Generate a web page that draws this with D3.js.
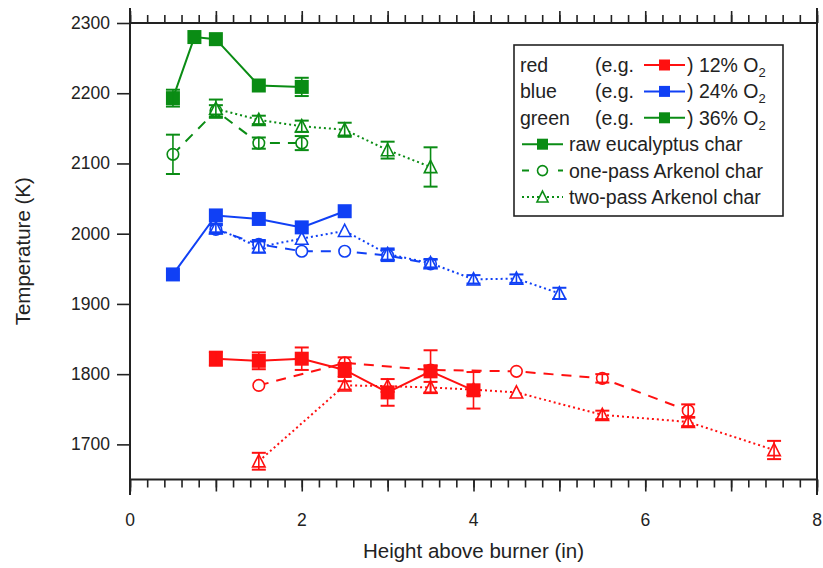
<!DOCTYPE html>
<html>
<head>
<meta charset="utf-8">
<script src="https://cdn.jsdelivr.net/npm/d3@7/dist/d3.min.js"></script>
<style>
body { margin: 0; background: #fff; }
text { font-family: "Liberation Sans", Arial, sans-serif; fill: #222; }
</style>
</head>
<body>
<div id="chart"></div>
<script>
/************** flame temperature vs height **************/

// heights (in) and temperatures (K)
var redRawX = [1, 1.5, 2, 2.5, 3, 3.5, 4];
var redRawY = [1822, 1819, 1822, 1806, 1774, 1804, 1777];
var redRawErr = [10, 12, 16, 10, 19, 30, 26];
var redOneX = [1.5, 2.5, 3.5, 4.5, 5.5, 6.5];
var redOneY = [1784, 1816, 1806, 1804, 1794, 1748];
var redOneErr = [2, 8, 6, 5, 6, 9];
var redTwoX = [1.5, 2.5, 3, 3.5, 4, 4.5, 5.5, 6.5, 7.5];
var redTwoY = [1676, 1784, 1783, 1781, 1778, 1774, 1742, 1732, 1692];
var redTwoErr = [12, 6, 4, 8, 4, 4, 6, 6, 13];

var blueRawX = [0.5, 1, 1.5, 2, 2.5];
var blueRawY = [1942, 2026, 2021, 2009, 2032];
var blueRawErr = [3, 4, 4, 4, 3];
var blueOneX = [1, 1.5, 2, 2.5, 3, 3.5];
var blueOneY = [2006, 1985, 1975, 1975, 1969, 1957];
var blueOneErr = [6, 6, 5, 3, 8, 6];
var blueTwoX = [1, 1.5, 2, 2.5, 3, 3.5, 4, 4.5, 5];
var blueTwoY = [2008, 1981, 1993, 2004, 1971, 1958, 1935, 1936, 1915];
var blueTwoErr = [6, 8, 5, 5, 8, 6, 6, 6, 8];

var greenRawX = [0.5, 0.75, 1, 1.5, 2];
var greenRawY = [2193, 2280, 2277, 2211, 2209];
var greenRawErr = [12, 3, 3, 5, 13];
var greenOneX = [0.5, 1, 1.5, 2];
var greenOneY = [2113, 2175, 2129, 2129];
var greenOneErr = [28, 8, 8, 10];
var greenTwoX = [1, 1.5, 2, 2.5, 3, 3.5];
var greenTwoY = [2178, 2162, 2153, 2148, 2119, 2095];
var greenTwoErr = [13, 6, 8, 10, 12, 28];

var xTickLabels = [0, 2, 4, 6, 8];
var yTickLabels = [1700, 1800, 1900, 2000, 2100, 2200, 2300];

var colRed = '#ff1010';
var colBlue = '#1040f5';
var colGreen = '#0a8c14';

var width = 823;
var height = 568;
var x_left = 130, x_right = 817, y_top = 23, y_bottom = 479.5;

var svg = d3.select("#chart")
	.append("svg")
	.attr("width", width)
	.attr("height", height);

var x = d3.scaleLinear().domain([0, 8]).range([x_left, x_right]);
var y = d3.scaleLinear().domain([1650, 2300]).range([y_bottom, y_top]);

function zip(xs, ys, es) {
	return xs.map(function (v, i) { return { x: v, y: ys[i], e: es[i] }; });
}

var series = [
	{ pts: zip(redOneX, redOneY, redOneErr), color: colRed, kind: 'one' },
	{ pts: zip(redTwoX, redTwoY, redTwoErr), color: colRed, kind: 'two' },
	{ pts: zip(redRawX, redRawY, redRawErr), color: colRed, kind: 'raw' },
	{ pts: zip(blueOneX, blueOneY, blueOneErr), color: colBlue, kind: 'one' },
	{ pts: zip(blueTwoX, blueTwoY, blueTwoErr), color: colBlue, kind: 'two' },
	{ pts: zip(blueRawX, blueRawY, blueRawErr), color: colBlue, kind: 'raw' },
	{ pts: zip(greenOneX, greenOneY, greenOneErr), color: colGreen, kind: 'one' },
	{ pts: zip(greenTwoX, greenTwoY, greenTwoErr), color: colGreen, kind: 'two' },
	{ pts: zip(greenRawX, greenRawY, greenRawErr), color: colGreen, kind: 'raw' }
];

var dashFor = { raw: null, one: '10,8', two: '2,3' };

// axes: frame with outward ticks, Igor style
var minorVals = d3.range(0, 8.001, 0.2).map(function (v) { return Math.round(v * 10) / 10; });
var majorVals = d3.range(0, 9, 1);

svg.append("g").attr("transform", "translate(0," + y_bottom + ")")
	.call(d3.axisBottom(x).tickValues(minorVals).tickSize(8).tickFormat(""));
svg.append("g").attr("transform", "translate(0," + y_bottom + ")")
	.call(d3.axisBottom(x).tickValues(majorVals).tickSize(12).tickFormat(""));
svg.append("g").attr("transform", "translate(0," + y_top + ")")
	.call(d3.axisTop(x).tickValues(minorVals).tickSize(8).tickFormat(""));
svg.append("g").attr("transform", "translate(0," + y_top + ")")
	.call(d3.axisTop(x).tickValues(majorVals).tickSize(12).tickFormat(""));
svg.append("g").attr("transform", "translate(" + x_left + ",0)")
	.call(d3.axisLeft(y).tickValues(yTickLabels).tickSize(13).tickFormat(""));

svg.selectAll(".domain").remove();
svg.selectAll(".tick line").attr("stroke", "#222").attr("stroke-width", 1.6);

// frame lines (left/right run past top and bottom)
svg.append("line").attr("x1", x_left).attr("x2", x_left).attr("y1", 8).attr("y2", 495)
	.attr("stroke", "#222").attr("stroke-width", 2);
svg.append("line").attr("x1", x_right).attr("x2", x_right).attr("y1", 8).attr("y2", 495)
	.attr("stroke", "#222").attr("stroke-width", 2);
svg.append("line").attr("x1", x_left).attr("x2", x_right).attr("y1", y_top).attr("y2", y_top)
	.attr("stroke", "#222").attr("stroke-width", 2);
svg.append("line").attr("x1", x_left).attr("x2", x_right).attr("y1", y_bottom).attr("y2", y_bottom)
	.attr("stroke", "#222").attr("stroke-width", 2);

svg.selectAll(".xlab").data(xTickLabels).enter().append("text")
	.attr("x", function (d) { return x(d); })
	.attr("y", 526)
	.attr("text-anchor", "middle")
	.style("font-size", "17.5px")
	.text(function (d) { return d; });

svg.selectAll(".ylab").data(yTickLabels).enter().append("text")
	.attr("x", 110)
	.attr("y", function (d) { return y(d) + 6; })
	.attr("text-anchor", "end")
	.style("font-size", "17.5px")
	.text(function (d) { return d; });

svg.append("text")
	.attr("x", (x_left + x_right) / 2)
	.attr("y", 558)
	.attr("text-anchor", "middle")
	.style("font-size", "20.5px")
	.text("Height above burner (in)");

svg.append("text")
	.attr("transform", "translate(30," + ((y_top + y_bottom) / 2) + ") rotate(-90)")
	.attr("text-anchor", "middle")
	.style("font-size", "20.5px")
	.text("Temperature (K)");

// marker drawing
function drawMarker(g, kind, color, cx, cy, s) {
	if (kind == 'raw') {
		g.append("rect").attr("x", cx - s / 2).attr("y", cy - s / 2)
			.attr("width", s).attr("height", s).attr("fill", color);
	} else if (kind == 'one') {
		g.append("circle").attr("cx", cx).attr("cy", cy).attr("r", s / 2 - 0.5)
			.attr("fill", "white").attr("stroke", color).attr("stroke-width", 1.6);
	} else {
		var h = s * 0.9;
		g.append("path")
			.attr("d", "M" + cx + "," + (cy - h / 2 - 1) + "L" + (cx + s / 2) + "," + (cy + h / 2) + "L" + (cx - s / 2) + "," + (cy + h / 2) + "Z")
			.attr("fill", "white").attr("stroke", color).attr("stroke-width", 1.6);
	}
}

var line = d3.line().x(function (d) { return x(d.x); }).y(function (d) { return y(d.y); });

series.forEach(function (s) {
	svg.append("path").datum(s.pts)
		.attr("d", line)
		.attr("fill", "none")
		.attr("stroke", s.color)
		.attr("stroke-width", 2)
		.attr("stroke-dasharray", dashFor[s.kind]);
});

series.forEach(function (s) {
	var g = svg.append("g");
	s.pts.forEach(function (d) {
		drawMarker(g, s.kind, s.color, x(d.x), y(d.y), s.kind == 'raw' ? 14 : 12.5);
	});
	s.pts.forEach(function (d) {
		var cx = x(d.x), y1 = y(d.y - d.e), y2 = y(d.y + d.e);
		if (d.e < 6) return;
		g.append("line").attr("x1", cx).attr("x2", cx).attr("y1", y1).attr("y2", y2)
			.attr("stroke", s.color).attr("stroke-width", 1.6);
		g.append("line").attr("x1", cx - 7).attr("x2", cx + 7).attr("y1", y1).attr("y2", y1)
			.attr("stroke", s.color).attr("stroke-width", 2);
		g.append("line").attr("x1", cx - 7).attr("x2", cx + 7).attr("y1", y2).attr("y2", y2)
			.attr("stroke", s.color).attr("stroke-width", 2);
	});
});

// legend
var lg = svg.append("g");
lg.append("rect").attr("x", 514).attr("y", 45).attr("width", 269).attr("height", 171)
	.attr("fill", "white").attr("stroke", "#222").attr("stroke-width", 1.6);

var legColors = [colRed, colBlue, colGreen];
var legNames = ['red', 'blue', 'green'];
var legPct = ['12%', '24%', '36%'];
var legSeries = ['raw eucalyptus char', 'one-pass Arkenol char', 'two-pass Arkenol char'];
var legKinds = ['raw', 'one', 'two'];
var row0 = 65, rowStep = 26.4;
var legFont = "19.5px";

legNames.forEach(function (n, i) {
	var cy = row0 + i * rowStep;
	lg.append("text").attr("x", 520).attr("y", cy + 7).style("font-size", legFont).text(n);
	lg.append("text").attr("x", 595).attr("y", cy + 7).style("font-size", legFont).text("(e.g.");
	lg.append("line").attr("x1", 644).attr("x2", 685).attr("y1", cy).attr("y2", cy)
		.attr("stroke", legColors[i]).attr("stroke-width", 2);
	drawMarker(lg, 'raw', legColors[i], 664.5, cy, 11);
	var t = lg.append("text").attr("x", 687).attr("y", cy + 7).style("font-size", legFont);
	t.append("tspan").text(") " + legPct[i] + " O");
	t.append("tspan").attr("dy", 5).style("font-size", "13px").text("2");
});

legSeries.forEach(function (n, i) {
	var cy = row0 + (i + 3) * rowStep;
	lg.append("line").attr("x1", 522).attr("x2", 563).attr("y1", cy).attr("y2", cy)
		.attr("stroke", colGreen).attr("stroke-width", 2)
		.attr("stroke-dasharray", legKinds[i] == 'one' ? '7,11' : dashFor[legKinds[i]]);
	drawMarker(lg, legKinds[i], colGreen, 542.5, cy, 11);
	lg.append("text").attr("x", 569).attr("y", cy + 7).style("font-size", legFont).text(n);
});
</script>
</body>
</html>
